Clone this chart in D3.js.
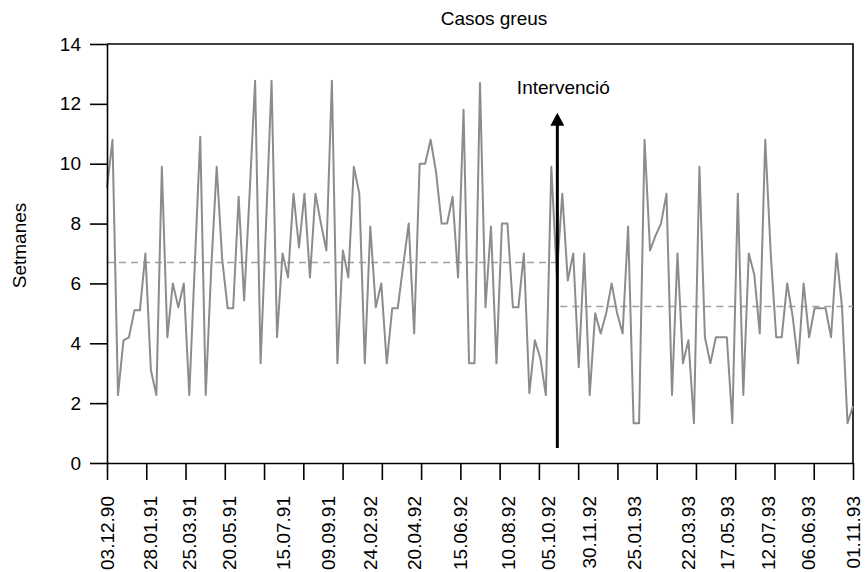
<!DOCTYPE html>
<meta charset="utf-8">
<style>
  body { margin: 0; background: #fff; }
  text { font-family: "Liberation Sans", Arial, sans-serif; fill: #000; }
  .serie { fill: none; stroke: #8c8c8c; stroke-width: 2px; stroke-linejoin: round; }
  .mitjana { stroke: #a0a0a0; stroke-width: 1.5px; stroke-dasharray: 7,5; }
  .axis path, .axis line { stroke: #000; stroke-width: 1.6px; }
  .axis text { font-size: 19px; }
  .marc { fill: none; stroke: #000; stroke-width: 1.6px; }
</style>
<svg width="866" height="572"></svg>
<script src="https://d3js.org/d3.v7.min.js"></script>
<script>

  // setmanes entre casos greus (una dada per setmana)
  var setmanes = [
    9.2, 10.8, 2.27, 4.1, 4.2, 5.1, 5.1, 7.0, 3.1, 2.27,
    9.9, 4.2, 6.0, 5.2, 6.0, 2.27, 6.6, 10.9, 2.27, 6.5,
    9.9, 6.8, 5.17, 5.17, 8.9, 5.43, 9.0, 12.77, 3.33, 8.0,
    12.77, 4.2, 7.0, 6.2, 9.0, 7.2, 9.0, 6.2, 9.0, 8.0,
    7.1, 12.77, 3.33, 7.1, 6.2, 9.9, 9.0, 3.33, 7.9, 5.2,
    6.0, 3.33, 5.17, 5.17, 6.6, 8.0, 4.33, 10.0, 10.0, 10.8,
    9.7, 8.0, 8.0, 8.9, 6.2, 11.8, 3.33, 3.33, 12.7, 5.2,
    7.9, 3.33, 8.0, 8.0, 5.2, 5.2, 7.0, 2.33, 4.1, 3.5,
    2.27, 9.9, 6.3, 9.0, 6.1, 7.0, 3.2, 7.0, 2.27, 5.0,
    4.33, 5.0, 6.0, 5.0, 4.33, 7.9, 1.33, 1.33, 10.8, 7.1,
    7.6, 8.0, 9.0, 2.27, 7.0, 3.33, 4.1, 1.33, 9.9, 4.2,
    3.33, 4.2, 4.2, 4.2, 1.33, 9.0, 2.27, 7.0, 6.3, 4.33,
    10.8, 7.0, 4.2, 4.2, 6.0, 4.9, 3.33, 6.0, 4.2, 5.17,
    5.17, 5.17, 4.2, 7.0, 5.2, 1.33, 1.9
  ];

  var etiquetes = ["03.12.90", "28.01.91", "25.03.91", "20.05.91", "15.07.91", "09.09.91",
    "24.02.92", "20.04.92", "15.06.92", "10.08.92", "05.10.92", "30.11.92",
    "25.01.93", "22.03.93", "17.05.93", "12.07.93", "06.06.93", "01.11.93"];
  // setmana on cau cada etiqueta
  var setmanaEtiqueta = [0, 7.85, 15, 22.3, 32.1, 40.3, 48, 56, 64.4, 73, 80.3, 87.8, 96, 105.9, 113, 120.5, 127.8, 136];

  var valorsY = [0, 2, 4, 6, 8, 10, 12, 14];
  var nMarques = 20;

  var intervencio = 82.1;      // setmana de la intervenció
  var mitjanes = [6.7, 5.23];  // abans / després

  var svg = d3.select("svg"),
    margin = { top: 44, right: 13, bottom: 109, left: 107 },
    width = +svg.attr("width") - margin.left - margin.right,
    height = +svg.attr("height") - margin.top - margin.bottom;

  var g = svg.append("g").attr("transform", "translate(" + margin.left + "," + margin.top + ")");

  var x = d3.scaleLinear().domain([0, setmanes.length - 1]).range([0, width]);
  var y = d3.scaleLinear().domain([0, 14]).range([height, 0]);

  // marc superior i dret
  g.append("path").attr("class", "marc")
    .attr("d", "M0,0H" + width + "V" + height);

  // línies de mitjana
  g.append("line").attr("class", "mitjana")
    .attr("x1", x(0)).attr("x2", x(intervencio))
    .attr("y1", y(mitjanes[0])).attr("y2", y(mitjanes[0]));
  g.append("line").attr("class", "mitjana")
    .attr("x1", x(intervencio) + 3).attr("x2", x(setmanes.length - 1))
    .attr("y1", y(mitjanes[1])).attr("y2", y(mitjanes[1]));

  // sèrie
  var line = d3.line()
    .x(function (d, i) { return x(i); })
    .y(function (d) { return y(d); });

  g.append("path").datum(setmanes).attr("class", "serie").attr("d", line);

  // eixos
  g.append("g").attr("class", "axis")
    .call(d3.axisLeft(y).tickValues(valorsY).tickSize(17).tickSizeOuter(0).tickPadding(9));

  var posMarques = d3.range(nMarques).map(function (k) { return k * (setmanes.length - 1) / (nMarques - 1); });

  g.append("g").attr("class", "axis")
    .attr("transform", "translate(0," + height + ")")
    .call(d3.axisBottom(x).tickValues(posMarques).tickSize(17).tickSizeOuter(0).tickFormat(""));

  var eixX = g.append("g").attr("class", "axis")
    .attr("transform", "translate(0," + height + ")")
    .call(d3.axisBottom(x).tickValues(setmanaEtiqueta).tickSize(0)
      .tickFormat(function (d, i) { return etiquetes[i]; }));
  eixX.select(".domain").remove();
  eixX.selectAll("text")
    .attr("transform", "rotate(-90)")
    .attr("text-anchor", "end")
    .attr("x", -33)
    .attr("y", 0)
    .attr("dy", "0.35em");

  // fletxa d'intervenció
  var xi = x(intervencio);
  g.append("line")
    .attr("x1", xi).attr("x2", xi)
    .attr("y1", y(0.5)).attr("y2", y(11.7) + 10)
    .attr("stroke", "#000").attr("stroke-width", 3);
  g.append("path")
    .attr("d", "M" + xi + "," + y(11.7) + "l7,13h-14z")
    .attr("fill", "#000");
  g.append("text")
    .attr("x", xi + 6).attr("y", y(11.7) - 19)
    .attr("text-anchor", "middle")
    .style("font-size", "19px")
    .text("Intervenció");

  // títols
  svg.append("text")
    .attr("x", 494).attr("y", 25)
    .attr("text-anchor", "middle")
    .style("font-size", "19px")
    .text("Casos greus");

  svg.append("text")
    .attr("transform", "translate(26," + (margin.top + height / 2 - 8) + ") rotate(-90)")
    .attr("text-anchor", "middle")
    .style("font-size", "19px")
    .text("Setmanes");

</script>
